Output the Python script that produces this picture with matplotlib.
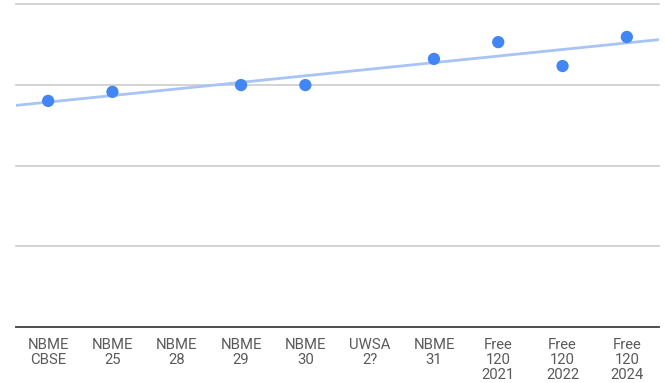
import numpy as np
import matplotlib
matplotlib.use("Agg")
import matplotlib.pyplot as plt

plt.rcParams['font.family'] = ['Roboto', 'DejaVu Sans']

categories = ["NBME\nCBSE", "NBME\n25", "NBME\n28", "NBME\n29", "NBME\n30",
              "UWSA\n2?", "NBME\n31", "Free\n120\n2021", "Free\n120\n2022", "Free\n120\n2024"]
# scores per exam (None = not taken)
scores = [70.0, 72.8, None, 74.9, 74.9, None, 83.0, 88.2, 80.8, 89.8]
y_ticks = [0, 25, 50, 75, 100]

fig = plt.figure(figsize=(6.66, 3.83), dpi=100)
ax = fig.add_axes([16/666, (383-327)/383, (659-16)/666, (327-4)/383])

idx = np.array([i for i, s in enumerate(scores) if s is not None], dtype=float)
vals = np.array([s for s in scores if s is not None], dtype=float)

# linear trendline across the full category range
slope, intercept = np.polyfit(idx, vals, 1)
xs = np.array([-0.5, len(categories) - 0.5])
ax.plot(xs, slope * xs + intercept, color='#a8c4f5', lw=2.0, zorder=2, solid_capstyle='butt')

ax.scatter(idx, vals, s=78, color='#4285f4', zorder=3, edgecolors='none')

ax.set_xlim(-0.5, len(categories) - 0.5)
ax.set_ylim(0, 100)
ax.set_yticks(y_ticks)
ax.yaxis.grid(True, color='#cccccc', lw=1.2)
ax.set_axisbelow(True)
for g in ax.get_ygridlines():
    g.set_clip_on(False)
ax.tick_params(axis='y', left=False, labelleft=False)
ax.set_xticks(range(len(categories)))
ax.set_xticklabels(categories, fontsize=10.7, color='#5a5a5a', linespacing=1.07)
ax.tick_params(axis='x', length=0, pad=8)

for side in ['top', 'right', 'left']:
    ax.spines[side].set_visible(False)
ax.spines['bottom'].set_color('#444444')
ax.spines['bottom'].set_linewidth(1.3)

fig.savefig('out.png', dpi=100)
